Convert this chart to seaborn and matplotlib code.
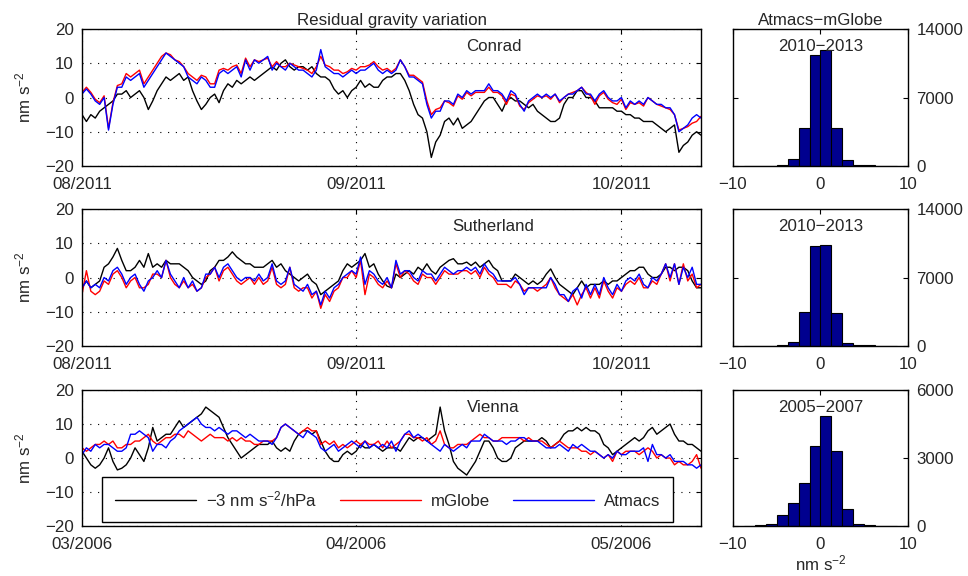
import numpy as np
import pandas as pd
import matplotlib
matplotlib.use("Agg")
import matplotlib.pyplot as plt
import matplotlib.dates as mdates
import seaborn as sns

# residual gravity, 12-hourly values (nm s^-2)
conrad_black = [
    -5, -7, -5, -6, -4, -3, -2, -1, 1, 1,
    2, 0, 1, 2, 0, -3.5, -1, 2, 4, 6,
    5, 6, 7, 5, 6, 2, -1, -3.5, -2, 0,
    1, -1.5, 2, 4, 3, 5, 4, 5, 6, 5,
    6, 7, 8, 9, 8, 10, 11, 9, 8, 9,
    9, 8, 9, 7, 6, 6, 5, 2.5, 1, 2,
    0, 2, 3, 5, 3, 4, 3, 3, 5, 6,
    6, 7, 7, 5, 2, -2, -5, -6, -10, -17.5,
    -13, -11, -7, -6, -8, -6, -9, -8, -7, -5,
    -3, -1, 0, 0, -2, -4, -1, 0, -1, -1,
    -2, -3, -2, -4, -5, -6, -7, -7, -6, -2,
    0, 0, 2, 2, 0, 0, -1, -3, -3, -3,
    -3, -4, -4, -5, -5, -6, -6, -7, -7, -7,
    -8, -9, -10, -9, -8, -16, -14, -13, -11, -10,
    -11]
conrad_red = [
    1.5, 3, 1.5, -0.5, -1.5, 0.5, -9, -1.5, 3.5, 4,
    7, 6, 7, 8, 4, 6, 8, 10, 12, 13,
    12.5, 11, 10.5, 9, 7, 6, 5, 6.5, 6, 4,
    4, 8, 8.5, 8, 9, 9.5, 7, 11.5, 9, 11,
    10.5, 11, 11.5, 9, 10.5, 9, 9, 10, 9.5, 9,
    8.5, 8, 7, 9, 12, 9.5, 9, 8, 8, 7,
    7.5, 8.5, 8, 9, 9, 9.5, 10.5, 9, 8, 8.5,
    7.5, 8.5, 11, 9, 6.5, 6.5, 5.5, 4.5, -1, -5,
    -3.5, -3, -1, -1.5, -2.5, 0.5, -0.5, 1.5, 0.5, 1.5,
    1.5, 1.5, 3, 1.5, 1.5, 0.5, -2, 1, 0.5, -2.5,
    -3.5, -1.5, -0.5, 0.5, 0, 0.5, -0.5, 1, -1.5, 0,
    1, 1.5, 2, 3, 1.5, 0.5, -2, 0.5, 1.5, -0.5,
    -1.5, -2, -0.5, -3.5, -1.5, -2, -1.5, -2.5, 0, -1,
    -2, -2.5, -3, -3.5, -5, -9.5, -9, -8.5, -7.5, -7,
    -5.5]
conrad_blue = [
    1, 2.5, 1, -1, -2, 0, -9.5, -2, 3, 3,
    6, 5, 6, 7, 3, 5, 7, 9, 11, 13,
    12, 11, 10, 9, 6, 5, 4, 6, 5, 3,
    3, 7, 8, 7, 8, 9, 6, 11, 8, 11,
    10, 11, 12, 8, 10, 9, 8, 10, 9, 8,
    8, 7, 6, 8, 14, 9, 8, 7, 7, 6,
    7, 8, 7, 8, 8, 9, 10, 8, 7, 8,
    7, 8, 11, 9, 6, 6, 5, 4, -2, -6,
    -4, -4, -1, -1, -2, 1, 0, 2, 1, 2,
    2, 2, 4, 2, 2, 1, -1, 2, 1, -2,
    -4, -1, 0, 1, 0, 1, 0, 1, -1, 0,
    1, 1, 2, 3, 1, 1, -1, 1, 2, 0,
    -1, -1, 0, -3, -1, -2, -1, -2, 0, -1,
    -2, -2, -3, -3, -5, -10, -9, -8, -6, -5,
    -6]

suth_black = [
    -3, -1, -3, -2, -1, 3, 4, 6, 8.5, 5,
    2, 2, 3, 5, 3, 7, 3, 4, 3, 5,
    4, 4, 4, 3, 2, 0, -1, -2, -1, 2,
    3, 5, 5, 6, 7.5, 6, 5, 4, 4, 3,
    3, 3, 4, 5, 3, 4, 2, 1, 0, -1,
    0, 1, -1, -2, -5, -4, -3, -2, -1, 2,
    4, 3, 4, 5, 7, 3, 4, 1, -1, -2.5,
    -3, 1, 0, 1, 2, 1, 3, 2, 4, 2,
    1, 3, 4, 5, 5.5, 4, 4, 4.5, 3.5, 4.5,
    3, 4, 5, 3, 2, -1, -1, -1, 1, 0,
    -1, -2, -1, -2, -1, 1, 2.5, 0, -2, -3,
    -4, -5, -3, -1, -3, -2, -2, -2, -1, -2,
    -1, -1, 0, 1, 2, 2, 3, 3, 1, 0,
    0, 1, 3, 3, 2, 3, 3, 2, -1, -3,
    -3]
suth_red = [
    -5, 2, -4, -5, -4, -1, -2, 1, 2, 0,
    -3, -1, 0, -3, -3, -2, 1, 1, 0, 5,
    0, -2, -3, -1, -3, -2, -4, -3, 0, 1,
    3, -1, 2, 3, 1, -1, -2, -1, 0, -2,
    0, -2, -1, 3, -2, -3, -2, 3, -3, -4,
    -3, -3, -6, -4, -9, -5, -7, -4, -3, 0,
    0, 2, 0, 5, -5, 1, 0, -2, -3, -1,
    -3, 4, 0, 2, 1, -1, -2, 1, 0, 0,
    -2, 0, 2, 1, 1, 1, 2, 2, 1, 2,
    0, 3, 1, 0, -2, -2, -2, -3, -1, -2,
    -4, -3, -3, -4, -3, -2, 0, -3, -5, -6,
    -7, -5, -8, -5, -3, -6, -3, -6, -1, -4,
    -6, -3, -4, -2, -1, -2, 0, -3, -3, -1,
    -2, 1, 4, -1, 4, -2, 4, -1, 1, -3,
    -2]
suth_blue = [
    -3, -1, -3, -2, -3, 0, -1, 2, 3, 1,
    -2, 0, 1, -2, -4, -1, 0, 2, 0, 5,
    1, -1, -3, 0, -3, -1, -4, -3, 1, 1,
    3, 0, 3, 4, 2, 0, -1, 0, 0, -1,
    1, -1, 0, 4, -1, -2, -1, 3, -2, -3,
    -4, -2, -5, -4, -8, -4, -6, -3, -2, 0,
    1, 2, 1, 6, -2, 2, 1, -1, -2, 0,
    -3, 5, 1, 2, 2, 0, -1, 2, 1, 1,
    -1, 1, 3, 2, 1, 2, 2, 3, 2, 3,
    1, 4, 2, 1, -1, -1, -1, -1, 0, -2,
    -5, -3, -3, -3, -3, -3, 0, -2, -5, -5,
    -7, -4, -3, -6, -2, -5, -2, -5, 0, -3,
    -5, -2, -4, -1, 0, -1, 1, -2, -3, 0,
    -1, 1, 4, 0, 4, -2, 3, 0, 3, -2,
    -2]

vienna_black = [
    2, 0, -2, -3, -2, 0, 3, -1, -3.5, -3,
    -2, 0, 3, 1, -1, 3, 9, 5, 6, 7,
    7, 9, 11, 9, 10, 11, 12, 13, 15, 14,
    13, 12, 9, 6, 4, 2, 0, 1, 2, 3,
    4, 4, 4, 5, 3, 2, 3, 2, 5, 7,
    8, 8, 7, 8, 5, 2, 0, -1, -1, 1,
    2, 1, 2, 4, 3, 3, 4, 3, 2, 3,
    3, 3, 2, 4, 6, 5, 6, 6, 5, 6,
    7, 15, 8, 4, -1, -3, -4, -5, -3, -1,
    2, 5, 5, 3, 0, -1, -1, 0, 3, 4,
    5, 5, 5, 5, 6, 5, 3, 4, 5, 7,
    8, 8, 9, 8, 9, 8, 8, 7, 4, 3,
    1, 2, 3, 4, 5, 6, 5, 6, 8, 9,
    7, 8, 9, 10, 7, 5, 5, 4, 4, 3,
    2]
vienna_red = [
    3, 2, 3, 4, 4, 5, 4, 5, 3, 3,
    4, 4, 5, 5, 6, 7, 5, 4, 5, 6,
    6, 7, 7, 6, 8, 7, 6, 5, 6, 7,
    6, 6, 6, 5, 6, 5, 6, 5, 5, 4,
    4, 5, 5, 5, 6, 9, 10, 9, 8, 7,
    8, 9, 8, 8, 4, 5, 4, 5, 3, 4,
    3, 4, 5, 4, 5, 4, 4, 5, 3, 5,
    3, 4, 5, 7, 7, 6, 6, 5, 6, 4,
    5, 8, 4, 3, 3, 4, 4, 4, 5, 6,
    7, 6, 6, 5, 5, 6, 6, 6, 6, 6,
    5, 6, 5, 5, 5, 4, 3, 4, 5, 4,
    3, 3, 3, 2, 2, 1, 2, 1, 0, 1,
    -1, 2, 1, 2, 2, 2, 1, 2, 3, 2,
    0, 1, 0, 0, -2, -1, -2, -2, -1, 1,
    -3]
vienna_blue = [
    1, 3, 2, 4, 3, 4, 4, 3, 2, 2,
    3, 7, 7, 8, 7, 6, 2, 4, 4, 3,
    5, 6, 8, 9, 10, 11, 12, 10, 9, 9,
    8, 9, 8, 7, 8, 8, 7, 6, 7, 6,
    5, 5, 5, 4, 6, 9, 10, 9, 8, 7,
    6, 8, 7, 6, 3, 2, 3, 4, 2, 3,
    4, 5, 4, 3, 5, 3, 4, 3, 4, 3,
    5, 2, 5, 7, 8, 6, 7, 6, 5, 4,
    3, 2, 4, 3, 2, 3, 4, 3, 5, 5,
    5, 7, 6, 5, 5, 5, 4, 5, 5, 6,
    6, 5, 5, 5, 4, 3, 3, 3, 4, 3,
    2, 4, 3, 4, 3, 2, 2, 1, 0, 1,
    0, 2, 1, 1, 2, 2, 2, 3, -1, 4,
    1, 1, 0, 1, -1, -1, -1, -2, -2, -3,
    -2]

# Atmacs - mGlobe histograms (bin width 1.25 nm s^-2)
hist_centers = [-8.125, -6.875, -5.625, -4.375, -3.125, -1.875, -0.625,
                0.625, 1.875, 3.125, 4.375, 5.625, 6.875, 8.125]
conrad_counts = [30, 30, 40, 150, 715, 3900, 11350, 11850, 3850, 600, 150, 60, 40, 30]
suth_counts = [30, 30, 40, 80, 380, 3450, 10200, 10350, 3350, 280, 80, 60, 40, 30]
vienna_counts = [20, 50, 100, 500, 1035, 1920, 3550, 4860, 3300, 770, 90, 30, 20, 10]

stations = ["Conrad", "Sutherland", "Vienna"]
starts = ["2011-08-01", "2011-08-01", "2006-03-01"]
periods = ["2010\u22122013", "2010\u22122013", "2005\u22122007"]

FS = 12.2
sns.set_style("white")
plt.rcParams["font.family"] = ["Liberation Sans", "DejaVu Sans"]
plt.rcParams["font.size"] = FS
plt.rcParams["mathtext.default"] = "regular"
plt.rcParams["xtick.direction"] = "in"
plt.rcParams["ytick.direction"] = "in"
plt.rcParams["xtick.major.size"] = 3.5
plt.rcParams["ytick.major.size"] = 3.5
plt.rcParams["xtick.major.pad"] = 8
plt.rcParams["ytick.major.pad"] = 6
plt.rcParams["axes.linewidth"] = 1.0
plt.rcParams["axes.edgecolor"] = "k"

fig = plt.figure(figsize=(9.68, 5.76), dpi=100)

series = [(conrad_black, conrad_red, conrad_blue),
          (suth_black, suth_red, suth_blue),
          (vienna_black, vienna_red, vienna_blue)]
counts = [conrad_counts, suth_counts, vienna_counts]
bottoms = [0.7118, 0.3993, 0.0868]
heights = [0.2378, 0.2378, 0.236]
ymax = [14000, 14000, 6000]

edges = [c - 0.625 for c in hist_centers] + [hist_centers[-1] + 0.625]

for i in range(3):
    ax = fig.add_axes([0.0847, bottoms[i], 0.6395, heights[i]])
    t = pd.date_range(starts[i], periods=141, freq="12h")
    k, r, b = series[i]
    df = pd.DataFrame({"t": t, "k": k, "r": r, "b": b})
    sns.lineplot(data=df, x="t", y="k", color="k", lw=1.0, ax=ax,
                 label="\u22123 nm s$^{-2}$/hPa")
    sns.lineplot(data=df, x="t", y="r", color="#ff0000", lw=1.0, ax=ax, label="mGlobe")
    sns.lineplot(data=df, x="t", y="b", color="#0000ff", lw=1.0, ax=ax, label="Atmacs")
    ax.set_xlim(t[0], t[0] + pd.Timedelta(days=70))
    ax.set_ylim(-20, 20)
    ax.set_yticks([-20, -10, 0, 10, 20])
    ax.xaxis.set_major_locator(mdates.MonthLocator())
    ax.xaxis.set_major_formatter(mdates.DateFormatter("%m/%Y"))
    ax.tick_params(top=True, right=True, color="k")
    ax.grid(True, ls=(0, (1, 6)), color="k", lw=0.8)
    ax.set_xlabel("")
    ax.set_ylabel("nm s$^{-2}$", labelpad=8)
    ax.text(0.665, 0.87, stations[i], transform=ax.transAxes, ha="center", va="center")
    if i == 2:
        ax.legend(loc="lower left", bbox_to_anchor=(0.032, 0.03, 0.923, 0.3),
                  mode="expand", ncol=3, handlelength=4.8, handletextpad=0.6,
                  columnspacing=0.8, borderpad=0.75, borderaxespad=0,
                  fancybox=False, framealpha=1, edgecolor="k")
        ax.get_legend().get_frame().set_linewidth(1.0)
    else:
        ax.get_legend().remove()
    if i == 0:
        ax.set_title("Residual gravity variation", fontsize=FS, pad=3)

    hx = fig.add_axes([0.7572, bottoms[i], 0.1808, heights[i]])
    hd = pd.DataFrame({"diff": hist_centers, "n": counts[i]})
    sns.histplot(data=hd, x="diff", weights="n", bins=edges, ax=hx,
                 color="#00008f", edgecolor="k", linewidth=0.8, alpha=1)
    hx.set_xlim(-10, 10)
    hx.set_xticks([-10, 0, 10])
    hx.set_ylim(0, ymax[i])
    hx.set_yticks([0, ymax[i] / 2, ymax[i]])
    hx.set_yticklabels([str(v) for v in [0, ymax[i] // 2, ymax[i]]])
    hx.yaxis.tick_right()
    hx.tick_params(left=True, right=True, top=True, bottom=True, labelleft=False,
                   labelright=True, color="k")
    hx.set_ylabel("")
    hx.set_xlabel("")
    hx.text(0.5, 0.87, periods[i], transform=hx.transAxes, ha="center", va="center")
    if i == 0:
        hx.set_title("Atmacs\u2212mGlobe", fontsize=FS, pad=3)
    if i == 2:
        hx.set_xlabel("nm s$^{-2}$", labelpad=1)

fig.savefig("out.png", dpi=100)
